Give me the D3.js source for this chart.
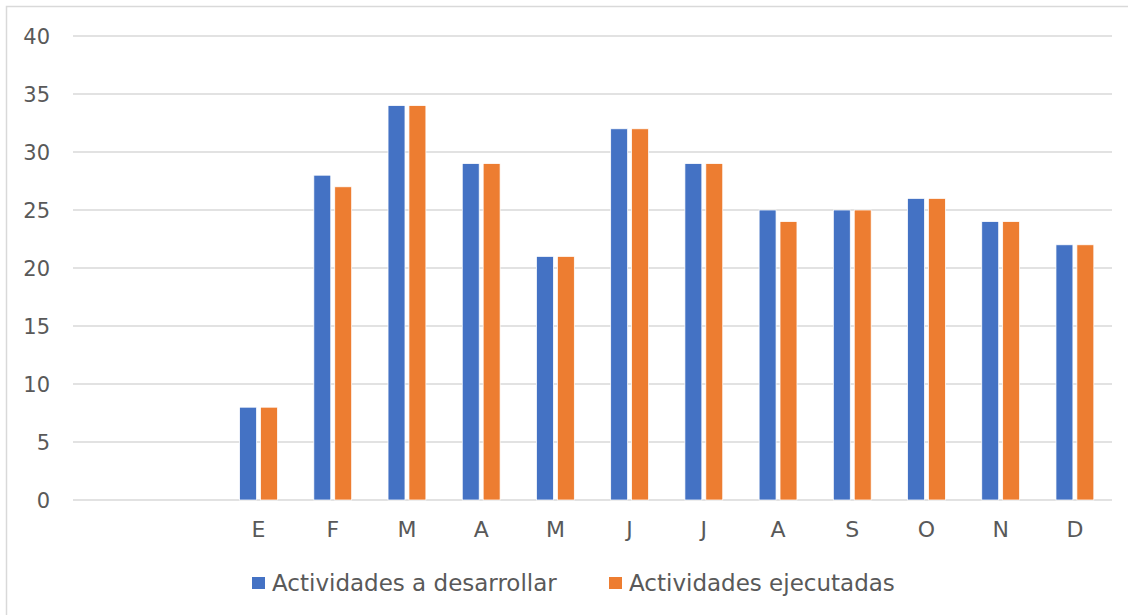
<!DOCTYPE html>
<meta charset="utf-8">
<head>
<title>Actividades</title>
<style>
  body { margin: 0; background: #fff; }
  text { font-family: "Century Gothic", "DejaVu Sans", sans-serif; fill: #595959; }
</style>
</head>
<body>
<div id="chart"></div>
<script src="https://d3js.org/d3.v7.min.js"></script>
<script>

// two blank slots at the start, then the months
var months = ["", "", "E", "F", "M", "A", "M", "J", "J", "A", "S", "O", "N", "D"];
var planned = [null, null, 8, 28, 34, 29, 21, 32, 29, 25, 25, 26, 24, 22];
var done    = [null, null, 8, 27, 34, 29, 21, 32, 29, 24, 25, 26, 24, 22];
var seriesNames = ["Actividades a desarrollar", "Actividades ejecutadas"];
var colors = ["#4472C4", "#ED7D31"];
var yTicks = [0, 5, 10, 15, 20, 25, 30, 35, 40];

var W = 1128, H = 615;
var margin = {top: 36, right: 16, bottom: 115, left: 73},
    width = W - margin.left - margin.right,
    height = H - margin.top - margin.bottom;

var svg = d3.select("#chart")
  .append("svg")
    .attr("width", W)
    .attr("height", H);

// chart frame
svg.append("rect")
  .attr("x", 6.5).attr("y", 6.5)
  .attr("width", W + 10).attr("height", H + 10)
  .attr("fill", "none")
  .attr("stroke", "#d9d9d9")
  .attr("stroke-width", 1.5);

var g = svg.append("g")
  .attr("transform", "translate(" + margin.left + "," + margin.top + ")");

var x = d3.scaleBand()
  .domain(d3.range(months.length))
  .range([0, width])
  .paddingInner(0.49)
  .paddingOuter(0.245);

var x1 = d3.scaleBand()
  .domain([0, 1])
  .range([0, x.bandwidth()])
  .paddingInner(0.19);

var y = d3.scaleLinear()
  .domain([0, 40])
  .range([height, 0]);

// gridlines
g.selectAll(".grid")
  .data(yTicks)
  .enter().append("line")
    .attr("x1", 0).attr("x2", width)
    .attr("y1", function(d) { return y(d); })
    .attr("y2", function(d) { return y(d); })
    .attr("stroke", "#d9d9d9")
    .attr("stroke-width", 1.5);

// y labels
g.selectAll(".ylab")
  .data(yTicks)
  .enter().append("text")
    .attr("x", -23)
    .attr("y", function(d) { return y(d); })
    .attr("dy", "0.36em")
    .attr("text-anchor", "end")
    .style("font-size", "21px")
    .text(function(d) { return d; });

// x labels
var xAxis = d3.axisBottom(x)
  .tickSize(0)
  .tickPadding(21)
  .tickFormat(function(i) { return months[i]; });
var xa = g.append("g")
  .attr("transform", "translate(0," + height + ")")
  .call(xAxis);
xa.select(".domain").remove();
xa.selectAll("text")
  .style("font-size", "22px")
  .style("font-family", null)
  .attr("fill", null);

// bars
var series = [planned, done];
series.forEach(function(vals, s) {
  g.selectAll(".bar" + s)
    .data(vals.map(function(v, i) { return {i: i, v: v}; }).filter(function(d) { return d.v != null; }))
    .enter().append("rect")
      .attr("x", function(d) { return x(d.i) + x1(s); })
      .attr("y", function(d) { return y(d.v); })
      .attr("width", x1.bandwidth())
      .attr("height", function(d) { return height - y(d.v); })
      .attr("fill", colors[s])
      .attr("stroke", "#fff")
      .attr("stroke-width", 0.75);
});

// legend
var legX = [252, 609];
var leg = svg.selectAll(".leg")
  .data(seriesNames)
  .enter().append("g")
    .attr("transform", function(d, i) { return "translate(" + legX[i] + ",577)"; });
leg.append("rect")
  .attr("width", 13).attr("height", 12)
  .attr("fill", function(d, i) { return colors[i]; });
leg.append("text")
  .attr("x", 20)
  .attr("y", 6)
  .attr("dy", "0.36em")
  .style("font-size", "23px")
  .text(function(d) { return d; });

</script>
</body>
